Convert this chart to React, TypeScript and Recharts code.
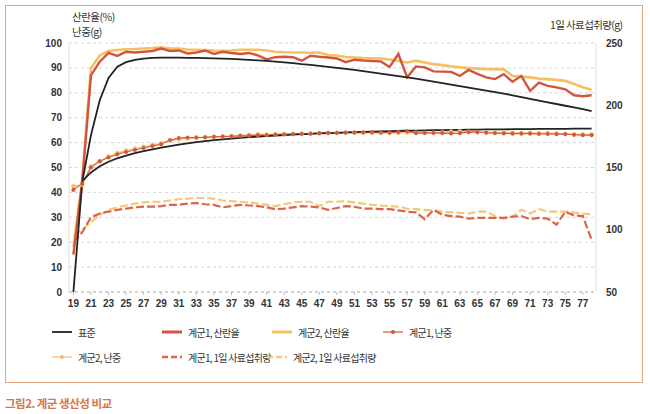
import React from 'react';
import { LineChart, Line, XAxis, YAxis, CartesianGrid } from 'recharts';

// 주령 (weeks of age)
const weeks = [
  19, 20, 21, 22, 23, 24, 25, 26, 27, 28, 29, 30, 31, 32, 33, 34, 35, 36, 37, 38,
  39, 40, 41, 42, 43, 44, 45, 46, 47, 48, 49, 50, 51, 52, 53, 54, 55, 56, 57, 58,
  59, 60, 61, 62, 63, 64, 65, 66, 67, 68, 69, 70, 71, 72, 73, 74, 75, 76, 77, 78,
];

// 표준 산란율 (%)
const stdRate = [
  0, 44, 63, 77, 86, 90.5, 92.3, 93.2, 93.7, 94, 94.1, 94.1, 94.1, 94, 94, 93.9, 93.8, 93.7, 93.6, 93.4,
  93.2, 93, 92.8, 92.5, 92.2, 91.9, 91.5, 91.2, 90.8, 90.4, 90, 89.6, 89.2, 88.7, 88.2, 87.7, 87.2, 86.7, 86.2, 85.7,
  85.1, 84.5, 83.9, 83.3, 82.7, 82.1, 81.5, 80.9, 80.3, 79.7, 79, 78.3, 77.6, 76.9, 76.2, 75.5, 74.8, 74.1, 73.4, 72.6,
];

// 표준 난중 (g)
const stdWeight = [
  null, 44.5, 48, 50.5, 52.3, 53.7, 54.8, 55.8, 56.6, 57.3, 58, 58.6, 59.2, 59.7, 60.2, 60.6, 61, 61.3, 61.6, 61.9,
  62.2, 62.4, 62.6, 62.8, 63, 63.2, 63.4, 63.5, 63.7, 63.8, 63.9, 64.1, 64.2, 64.3, 64.4, 64.5, 64.6, 64.7, 64.8, 64.8,
  64.9, 65, 65, 65.1, 65.1, 65.2, 65.2, 65.3, 65.3, 65.3, 65.4, 65.4, 65.4, 65.5, 65.5, 65.5, 65.5, 65.6, 65.6, 65.6,
];

// 계군1, 산란율 (%)
const g1Rate = [
  15, 44, 87, 92.5, 96, 94.8, 96.5, 96.2, 96.5, 96.8, 97.8, 96.8, 97, 95.8, 96.2, 97, 95.6, 96.5, 96, 95.6,
  96, 95, 93.4, 94.3, 94.5, 94.3, 92.9, 94.9, 94.5, 94.2, 93.8, 92.3, 93.3, 93, 92.8, 92.6, 90.4, 95.6, 86.2, 90.6,
  90.2, 88.6, 88.5, 88.4, 86.8, 89.2, 87.6, 86.2, 85.5, 87.5, 84.4, 86.8, 80.8, 84.1, 82.8, 82.2, 81.4, 79, 78.6, 79,
];

// 계군2, 산란율 (%)
const g2Rate = [
  18, 45, 90, 95, 96.8, 97.2, 97.5, 97.6, 97.8, 98, 98.3, 97.8, 97.8, 97.4, 97.3, 97.2, 97, 96.9, 97, 97.3,
  97.3, 97.3, 97, 96.5, 96.3, 96.2, 96.2, 96.1, 96.2, 95.2, 95, 94.4, 94.2, 94, 93.9, 93.8, 93.4, 92.8, 92.2, 92.9,
  92.2, 91.5, 91.1, 90.6, 90.2, 89.9, 89.7, 89.5, 89.5, 89.4, 86.8, 86.5, 86.2, 85.7, 85.5, 85.2, 84.8, 83.5, 82.2, 81.2,
];

// 계군1, 난중 (g)
const g1Weight = [
  41, 43.5, 50, 52.5, 54, 55.3, 56.2, 57, 57.8, 58.6, 59.3, 61, 61.8, 62, 62, 62.1, 62.3, 62.4, 62.5, 62.7,
  62.8, 63, 63, 63.2, 63.3, 63.4, 63.5, 63.6, 63.8, 63.9, 63.9, 64, 64, 64.1, 64.2, 64.2, 64.1, 64.3, 64.6, 63.8,
  63.9, 63.9, 63.8, 63.7, 63.8, 64.2, 64.2, 64, 63.8, 63.7, 63.6, 63.6, 63.6, 63.5, 63.5, 63.4, 63.4, 63.2, 63, 63,
];

// 계군2, 난중 (g)
const g2Weight = [
  42.5, 43, 50.5, 52.5, 54.5, 55.8, 56.8, 57.6, 58.3, 59, 59.8, 60.8, 61.4, 61.7, 62, 62.2, 62.4, 62.5, 62.7, 62.9,
  63.1, 63.3, 63.2, 63.3, 63.4, 63.5, 63.6, 63.6, 63.7, 63.8, 63.9, 64, 64.1, 64, 63.9, 63.8, 63.8, 63.9, 64, 64,
  63.9, 64, 64.2, 64.5, 64.6, 64.4, 64.2, 64.1, 64.1, 64, 64, 63.9, 63.9, 63.8, 63.8, 63.7, 63.5, 63.2, 63.3, 63.3,
];

// 계군1, 1일 사료섭취량 (g)
const g1Feed = [
  90, 98, 110, 113, 114.5, 116, 117, 118, 118.5, 118.5, 119, 120, 120, 121, 121.5, 120.5, 120, 118, 119, 120,
  119.5, 119, 118, 116.5, 117, 118, 119, 118.5, 118, 116, 117.5, 119, 118.5, 117, 117, 116.5, 116.5, 115.5, 114.5, 114,
  108.5, 116, 112, 111, 110.5, 109, 109.5, 109.5, 109.5, 109.5, 110.5, 111, 108.5, 109.5, 109, 104, 114.5, 111.5, 111, 92,
];

// 계군2, 1일 사료섭취량 (g)
const g2Feed = [
  96, 100, 106, 112, 116, 118, 119.5, 121, 122, 122.5, 122.5, 123.5, 124.5, 125, 125.5, 125.5, 125, 123.5, 123, 122.5,
  122, 121, 120, 119, 120.5, 122, 122.5, 122.5, 119, 122.5, 122.5, 123, 122, 121, 120, 119.5, 119, 118.5, 117, 116.5,
  116, 115.5, 114.5, 114, 113.5, 113, 114.5, 114.5, 111, 109, 110.5, 116, 113, 116.5, 114.5, 114.5, 114.5, 114, 113, 112.5,
];

const leftTicks = [0, 10, 20, 30, 40, 50, 60, 70, 80, 90, 100];
const rightTicks = [50, 100, 150, 200, 250];

const chartData = weeks.map((w, i) => ({
  week: w,
  stdRate: stdRate[i],
  stdWeight: stdWeight[i],
  g1Rate: g1Rate[i],
  g2Rate: g2Rate[i],
  g1Weight: g1Weight[i],
  g2Weight: g2Weight[i],
  g1Feed: g1Feed[i],
  g2Feed: g2Feed[i],
}));

const BLACK = '#222222';
const RED = '#D0563E';
const YELLOW = '#F5C062';
const RED_FEED = '#D9654B';
const YELLOW_FEED = '#F4C878';

const KR_FONT = '"Noto Sans CJK KR", "Noto Sans", sans-serif';
const NUM_FONT = '"Liberation Sans", Arial, sans-serif';

const tickStyle = { fontFamily: NUM_FONT, fontSize: 10, fontWeight: 700, fill: '#333' };

const legendItems = [
  { label: '표준', color: BLACK, width: 1.8, dash: undefined, dot: false, x: 52, y: 332 },
  { label: '계군1, 산란율', color: RED, width: 3, dash: undefined, dot: false, x: 162, y: 332 },
  { label: '계군2, 산란율', color: YELLOW, width: 3, dash: undefined, dot: false, x: 272, y: 332 },
  { label: '계군1, 난중', color: RED, width: 1.2, dash: undefined, dot: true, x: 383, y: 332 },
  { label: '계군2, 난중', color: YELLOW, width: 1.2, dash: undefined, dot: true, x: 52, y: 357 },
  { label: '계군1, 1일 사료섭취량', color: RED_FEED, width: 2.5, dash: '6 3', dot: false, x: 162, y: 357 },
  { label: '계군2, 1일 사료섭취량', color: YELLOW_FEED, width: 2.5, dash: '6 3', dot: false, x: 267, y: 357 },
];

const LegendKey = ({ item }: { item: typeof legendItems[number] }) => (
  <div
    style={{
      position: 'absolute',
      left: item.x,
      top: item.y - 9,
      height: 18,
      display: 'flex',
      alignItems: 'center',
      fontFamily: KR_FONT,
      fontSize: 10,
      letterSpacing: -0.7,
      color: '#333',
      whiteSpace: 'nowrap',
    }}
  >
    <svg width={21} height={10} style={{ marginRight: 5 }}>
      <line x1={0} y1={5} x2={20} y2={5} stroke={item.color} strokeWidth={item.width} strokeDasharray={item.dash} />
      {item.dot && <circle cx={10} cy={5} r={2} fill={item.color} />}
    </svg>
    {item.label}
  </div>
);

export default function App() {
  return (
    <div style={{ position: 'absolute', left: 0, top: 0, width: 650, height: 414, background: '#fff', overflow: 'hidden' }}>
      {/* 바깥 테두리 */}
      <div
        style={{
          position: 'absolute',
          left: 5,
          top: 5,
          width: 636,
          height: 376,
          border: '1.5px solid #E3A583',
        }}
      />

      {/* 축 제목 */}
      <div style={{ position: 'absolute', left: 72, top: 9, fontFamily: KR_FONT, fontSize: 10.5, letterSpacing: -0.5, color: '#333', lineHeight: '15px' }}>
        산란율(%)
        <br />
        난중(g)
      </div>
      <div style={{ position: 'absolute', left: 550, top: 17, fontFamily: KR_FONT, fontSize: 10.5, letterSpacing: -0.6, color: '#333', whiteSpace: 'nowrap' }}>
        1일 사료섭취량(g)
      </div>

      <div style={{ position: 'absolute', left: 0, top: 0 }}>
        <LineChart width={650} height={322} data={chartData} margin={{ top: 43, right: 0, left: 0, bottom: 0 }}>
          <CartesianGrid vertical={false} stroke="#d6d6d6" strokeDasharray="3 3" yAxisId="left" />
          <XAxis
            dataKey="week"
            interval={1}
            padding={{ left: 4.4, right: 4.4 }}
            height={30}
            tick={tickStyle}
            tickSize={3}
            tickMargin={5}
            stroke="#bbbbbb"
            axisLine={{ stroke: '#bbbbbb', strokeDasharray: '3 3' }}
          />
          <YAxis
            yAxisId="left"
            domain={[0, 100]}
            ticks={leftTicks}
            width={69}
            tick={tickStyle}
            tickLine={false}
            tickSize={0}
            tickMargin={7}
            axisLine={{ stroke: '#e0e0e0' }}
          />
          <YAxis
            yAxisId="right"
            orientation="right"
            domain={[50, 250]}
            ticks={rightTicks}
            width={54}
            tick={tickStyle}
            tickLine={false}
            tickSize={0}
            tickMargin={10}
            axisLine={{ stroke: '#e0e0e0' }}
          />

          <Line yAxisId="right" dataKey="g2Feed" name="계군2, 1일 사료섭취량" stroke={YELLOW_FEED} strokeWidth={2.2} strokeDasharray="8 3" dot={false} isAnimationActive={false} />
          <Line yAxisId="right" dataKey="g1Feed" name="계군1, 1일 사료섭취량" stroke={RED_FEED} strokeWidth={2.2} strokeDasharray="8 3" dot={false} isAnimationActive={false} />

          <Line yAxisId="left" dataKey="g2Weight" name="계군2, 난중" stroke={YELLOW} strokeWidth={1.3} dot={{ r: 2, fill: YELLOW, stroke: YELLOW, strokeWidth: 0.5 }} isAnimationActive={false} />
          <Line yAxisId="left" dataKey="g1Weight" name="계군1, 난중" stroke={RED} strokeWidth={1.1} dot={{ r: 1.8, fill: RED, stroke: RED, strokeWidth: 0.5 }} isAnimationActive={false} />
          <Line yAxisId="left" dataKey="stdWeight" name="표준" stroke={BLACK} strokeWidth={1.8} dot={false} isAnimationActive={false} />

          <Line yAxisId="left" dataKey="g2Rate" name="계군2, 산란율" stroke={YELLOW} strokeWidth={2.6} dot={false} isAnimationActive={false} />
          <Line yAxisId="left" dataKey="g1Rate" name="계군1, 산란율" stroke={RED} strokeWidth={2.4} dot={false} isAnimationActive={false} />
          <Line yAxisId="left" dataKey="stdRate" name="표준" stroke={BLACK} strokeWidth={1.8} dot={false} isAnimationActive={false} />
        </LineChart>
      </div>

      {/* 범례 */}
      {legendItems.map((item) => (
        <LegendKey key={item.label} item={item} />
      ))}

      {/* 그림 제목 */}
      <div
        style={{
          position: 'absolute',
          left: 5,
          top: 395,
          fontFamily: KR_FONT,
          fontSize: 11.5,
          letterSpacing: -0.5,
          fontWeight: 700,
          color: '#D4774A',
          whiteSpace: 'nowrap',
        }}
      >
        그림2. 계군 생산성 비교
      </div>
    </div>
  );
}
